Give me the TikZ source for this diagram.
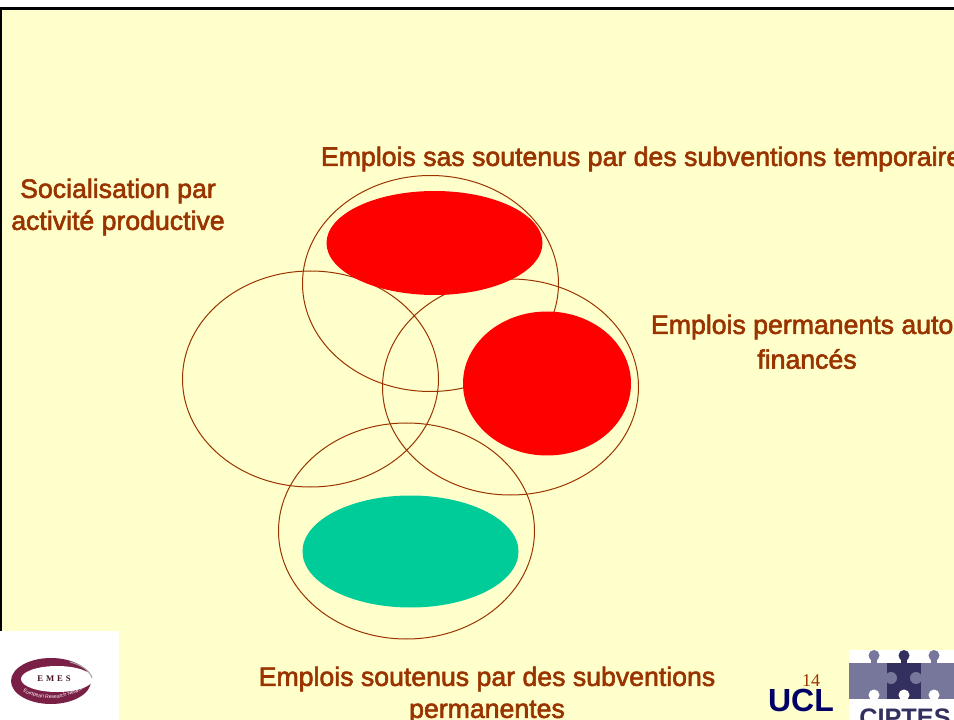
\documentclass[tikz,border=0pt]{standalone}
\usepackage{fontspec}
\setmainfont{Liberation Sans}
\newfontfamily\boldish[FakeBold=2.2]{Liberation Sans}
\newfontfamily\numfont{Liberation Serif}
\usetikzlibrary{shapes.geometric, decorations.text}
\definecolor{pagebg}{HTML}{FFFFCC}
\definecolor{brownred}{HTML}{993300}
\definecolor{tealgreen}{HTML}{00CC99}
\definecolor{ucl}{HTML}{000066}
\definecolor{emes}{HTML}{7A1F45}
\definecolor{puzzlegray}{HTML}{77779B}
\definecolor{puzzledark}{HTML}{33305F}

\begin{document}
\begin{tikzpicture}[x=0.75pt,y=-0.75pt]
\tikzstyle{every node}=[inner sep=0pt, outer sep=0pt]
\tikzstyle{ring}=[ellipse, draw=brownred, line width=0.75pt, minimum width=192pt, minimum height=162pt]
\tikzstyle{blob}=[ellipse, minimum width=162pt, minimum height=78pt]
\tikzstyle{lbl}=[text=brownred, font=\boldish\fontsize{20}{24}\selectfont, align=center]
\tikzstyle{logobg}=[fill=white, draw=none]

\useasboundingbox (0,0) rectangle (954,720);
\fill[white] (0,0) rectangle (954,720);
\fill[pagebg] (0,8) rectangle (954,720);
\draw[black, line width=2pt] (0,8.5) -- (954,8.5);
\draw[black, line width=1.5pt] (0.5,8) -- (0.5,720);

\node[ring] at (430.5,283.5) (ringtop) {};
\node[ring] at (310.5,379) (ringleft) {};
\node[ring] at (510.5,387) (ringright) {};
\node[ring] at (406.5,531) (ringbottom) {};

% filled blobs lie over the rings
\node[blob, fill=red] at (434.5,243) (redtop) {};
\node[ellipse, fill=red, minimum width=126pt, minimum height=108pt] at (547,383.5) (redright) {};
\node[blob, fill=tealgreen, minimum height=84pt] at (410.5,551.5) (greenblob) {};

\node[lbl] at (118,207) (social) {Socialisation par\\activité productive};
\node[lbl, anchor=west] at (321,159) (tempo) {Emplois sas soutenus par des subventions temporaire};
\node[lbl, anchor=west] at (651,327) (auto) {Emplois permanents auto};
\node[lbl] at (807,359) (finances) {financés};
\node[lbl] at (487,695) (perma) {Emplois soutenus par des subventions\\permanentes};

% EMES logo
\fill[logobg] (0,631) rectangle (119,720);
\fill[emes] (51,681) ellipse (40 and 23);
\fill[white] (57,679) ellipse (36 and 13);
\draw[gray!70, line width=0.8pt] (70,662) .. controls (82,665) and (90,671) .. (92,678);
\node[font=\numfont\bfseries\fontsize{6.5}{7}\selectfont, text=emes!60!black] at (54,679) (emestext) {E\,\,M\,\,E\,\,S};
\path[postaction={decorate, decoration={text along path, text align=center,
  text={|\fontsize{3.8}{4}\selectfont\color{white}|European Research Network}}}]
  (21,690) .. controls (38,702) and (68,701) .. (87,687);

% puzzle logo
\fill[logobg] (849,650) rectangle (954,720);
\fill[puzzlegray] (849,663) rectangle (887,699);
\fill[puzzledark] (887,663) rectangle (921,699);
\fill[puzzlegray] (921,663) rectangle (954,699);
\foreach \kx/\kc in {874/puzzlegray, 904/puzzledark, 934/puzzlegray} {
  \fill[\kc] (\kx,655.5) circle (5.5);
  \fill[\kc] (\kx-3,658) rectangle (\kx+3,664);
  \fill[white] (\kx,695) circle (5.5);
  \fill[white] (\kx-3,695) rectangle (\kx+3,700);
}
\fill[puzzlegray] (891,678) circle (6);
\fill[puzzlegray] (916,678) circle (6);
\node[font=\bfseries\fontsize{19}{22}\selectfont, text=puzzledark, anchor=north] at (905,709) (ciptes) {CIPTES};

% UCL and page number
\node[font=\bfseries\fontsize{24}{26}\selectfont, text=ucl] at (801,700) (ucllogo) {UCL};
\node[font=\numfont\fontsize{13.5}{14}\selectfont, text=brownred] at (811,681) (pagenum) {14};
\end{tikzpicture}
\end{document}
